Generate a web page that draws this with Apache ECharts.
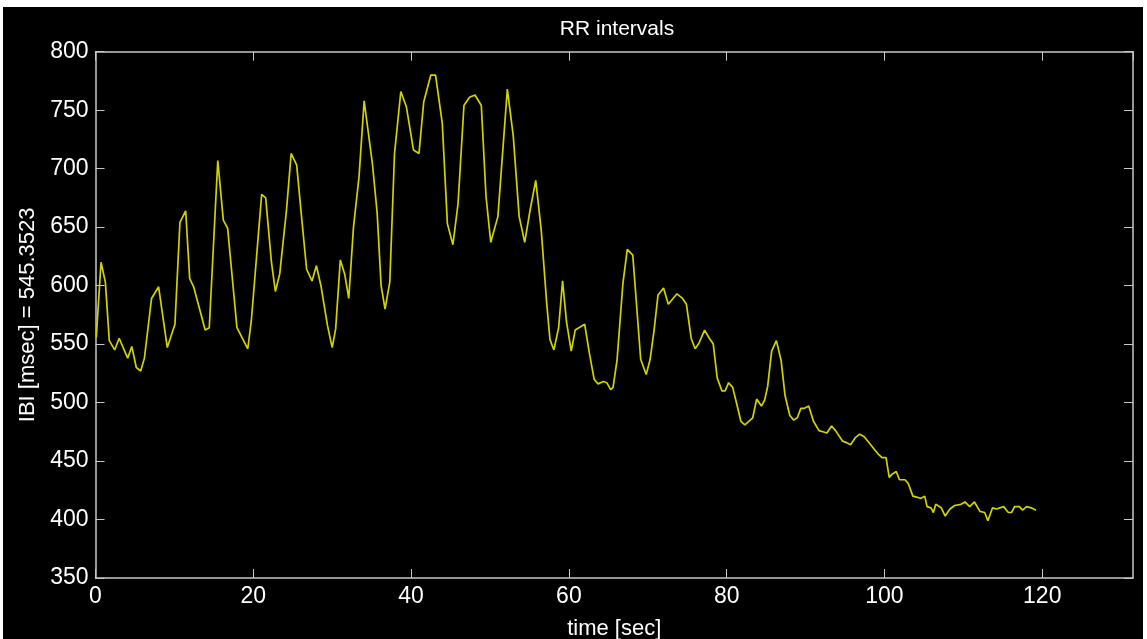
<!DOCTYPE html>
<html>
<head>
<meta charset="utf-8">
<title>RR intervals</title>
<script src="https://cdn.jsdelivr.net/npm/echarts@6/dist/echarts.min.js"></script>
<style>
  html, body { margin: 0; padding: 0; background: #fff; }
  #chart { position: absolute; left: 3px; top: 7px; width: 1140px; height: 632px; background: #000; }
</style>
</head>
<body>
<div id="chart"></div>
<script>
// beat times [sec] and RR interval values [msec]
const times = [
  0.1, 0.7, 1.25, 1.75, 2.43, 3.0, 4.08, 4.6, 5.17, 5.73, 6.2, 7.1, 8.0, 9.1, 10.07,
  10.7, 11.43, 11.94, 12.44, 13.9, 14.42, 15.5, 16.2, 16.75, 17.93, 19.3, 19.75, 21.06, 21.57, 22.3,
  22.8, 23.35, 24.2, 24.8, 25.5, 26.2, 26.76, 27.44, 28.0, 28.6, 29.4, 30.0, 30.44, 31.03, 31.58,
  32.1, 32.7, 33.4, 34.05, 35.1, 35.7, 36.2, 36.7, 37.3, 37.9, 38.7, 39.4, 40.3, 41.0, 41.6,
  42.5, 43.1, 43.95, 44.6, 45.3, 45.95, 46.7, 47.4, 48.1, 48.9, 49.5, 50.1, 51.0, 52.2, 52.95,
  53.7, 54.4, 55.07, 55.8, 56.5, 57.2, 57.6, 58.1, 58.7, 59.2, 59.7, 60.3, 60.8, 62.0, 62.6,
  63.2, 63.7, 64.36, 64.8, 65.3, 65.6, 66.1, 66.85, 67.4, 68.1, 69.1, 69.8, 70.3, 70.8, 71.3,
  72.0, 72.6, 73.7, 74.4, 74.9, 75.5, 76.0, 76.5, 77.2, 77.8, 78.3, 78.8, 79.4, 79.8, 80.25,
  80.76, 81.27, 81.8, 82.3, 82.8, 83.3, 83.8, 84.4, 84.8, 85.2, 85.7, 86.3, 86.9, 87.4, 88.0,
  88.5, 88.95, 89.4, 89.8, 90.4, 91.0, 91.7, 92.2, 92.7, 93.3, 93.8, 94.7, 95.1, 95.7, 96.3,
  96.86, 97.4, 98.0, 98.6, 99.2, 99.7, 100.2, 100.6, 101.0, 101.5, 101.9, 102.6, 103.0, 103.6, 104.2,
  104.6, 105.1, 105.4, 105.9, 106.2, 106.5, 107.2, 107.7, 108.3, 108.9, 109.7, 110.2, 110.8, 111.4, 112.1,
  112.7, 113.1, 113.7, 114.2, 115.1, 115.7, 116.1, 116.5, 117.1, 117.5, 118.0, 118.6, 118.8, 119.2
]
const rr = [
  556, 620, 603, 553, 545, 555, 538, 548, 530, 527, 538, 589, 599, 547, 567,
  654, 664, 606, 599, 562, 564, 707, 656, 649, 564, 546, 570, 678, 675, 620,
  595, 610, 664, 713, 703, 653, 614, 604, 617, 599, 566, 547, 563, 622, 610,
  589, 650, 693, 758, 704, 662, 600, 580, 603, 713, 766, 753, 716, 713, 757,
  780, 780, 739, 653, 635, 670, 754, 761, 763, 754, 676, 637, 659, 768, 728,
  659, 637, 664, 690, 647, 584, 554, 545, 564, 604, 569, 544, 562, 567, 542,
  520, 516, 518, 517, 511, 513, 536, 602, 631, 626, 537, 524, 537, 562, 592,
  598, 584, 593, 589, 584, 555, 546, 551, 562, 555, 550, 521, 510, 510, 517,
  513, 499, 484, 481, 484, 487, 503, 497, 502, 514, 544, 553, 536, 506, 489,
  485, 487, 495, 495, 497, 484, 476, 475, 474, 480, 476, 467, 466, 464, 470,
  473, 471, 466, 461, 456, 453, 453, 436, 439, 441, 434, 434, 431, 420, 419,
  418, 420, 411, 410, 406, 413, 410, 403, 409, 412, 413, 415, 411, 415, 407,
  406, 399, 410, 409, 411, 406, 406, 411, 411, 408, 411, 410, 409, 408
]
const xTicks = [0, 20, 40, 60, 80, 100, 120]
const yTicks = [350, 400, 450, 500, 550, 600, 650, 700, 750, 800]
const meanLabel = '545.3523'

const frameColor = '#c8c8c8'
const font = 'Arial, "Liberation Sans", sans-serif'

const chart = echarts.init(document.getElementById('chart'))

const points = times.map((t, i) => [t, rr[i]])

const tickLabel = {
  color: '#fff',
  fontFamily: font,
  fontSize: 23
}

const option = {
  backgroundColor: '#000',
  animation: false,
  title: {
    text: 'RR intervals',
    left: 612 - 3,
    top: 7,
    textAlign: 'center',
    textStyle: { color: '#fff', fontFamily: font, fontSize: 21, fontWeight: 'normal' }
  },
  grid: {
    left: 92.5,
    right: 10,
    top: 44.7,
    bottom: 61,
    containLabel: false,
    outerBoundsMode: 'none'
  },
  xAxis: [
    {
      type: 'value',
      position: 'bottom',
      min: 0,
      max: 131.5,
      interval: 20,
      name: 'time [sec]',
      nameLocation: 'middle',
      nameGap: 40,
      nameTextStyle: { color: '#fff', fontFamily: font, fontSize: 22 },
      axisLine: { show: true, onZero: false, lineStyle: { color: frameColor, width: 1.5 } },
      axisTick: { show: true, inside: true, length: 9, lineStyle: { color: frameColor } },
      axisLabel: Object.assign({}, tickLabel, {
        margin: 7,
        showMaxLabel: false,
        formatter: v => (xTicks.includes(v) ? String(v) : '')
      }),
      splitLine: { show: false }
    },
    {
      type: 'value',
      position: 'top',
      min: 0,
      max: 131.5,
      interval: 20,
      axisLine: { show: true, onZero: false, lineStyle: { color: frameColor, width: 1.5 } },
      axisTick: { show: true, inside: true, length: 9, lineStyle: { color: frameColor } },
      axisLabel: { show: false },
      splitLine: { show: false }
    }
  ],
  yAxis: [
    {
      type: 'value',
      position: 'left',
      min: yTicks[0],
      max: yTicks[yTicks.length - 1],
      interval: 50,
      name: 'IBI [msec] = ' + meanLabel,
      nameLocation: 'middle',
      nameGap: 57,
      nameTextStyle: { color: '#fff', fontFamily: font, fontSize: 22 },
      axisLine: { show: true, onZero: false, lineStyle: { color: frameColor, width: 1.5 } },
      axisTick: { show: true, inside: true, length: 9, lineStyle: { color: frameColor } },
      axisLabel: Object.assign({}, tickLabel, { margin: 7 }),
      splitLine: { show: false }
    },
    {
      type: 'value',
      position: 'right',
      min: yTicks[0],
      max: yTicks[yTicks.length - 1],
      interval: 50,
      axisLine: { show: true, onZero: false, lineStyle: { color: frameColor, width: 1.5 } },
      axisTick: { show: true, inside: true, length: 9, lineStyle: { color: frameColor } },
      axisLabel: { show: false },
      splitLine: { show: false }
    }
  ],
  series: [
    {
      name: 'RR',
      type: 'line',
      xAxisIndex: 0,
      yAxisIndex: 0,
      data: points,
      showSymbol: false,
      symbol: 'none',
      lineStyle: { color: '#d2d200', width: 1.7 }
    }
  ]
}

chart.setOption(option)
</script>
</body>
</html>
